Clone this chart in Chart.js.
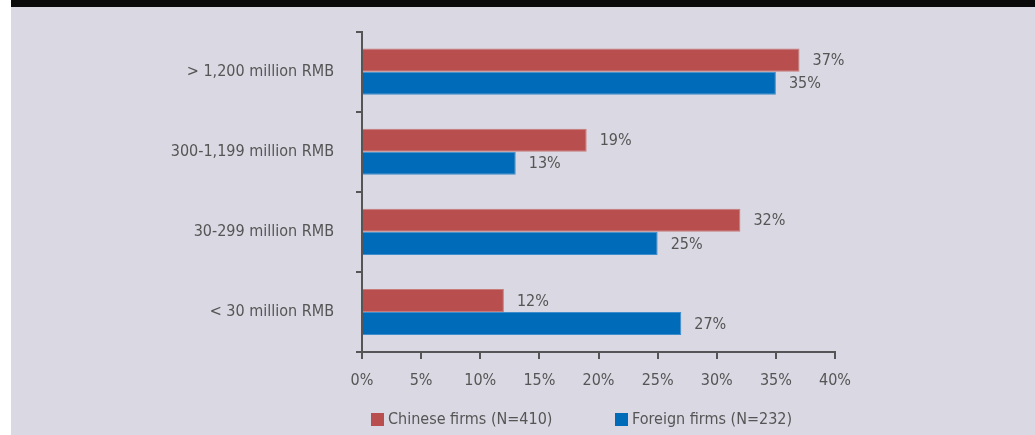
<!DOCTYPE html>
<html>
<head>
<meta charset="utf-8">
<script src="https://cdn.jsdelivr.net/npm/chart.js@4"></script>
<style>
  body { margin: 0; background: #ffffff; }
  canvas { display: block; }
</style>
</head>
<body>
<canvas id="myChart" width="1035" height="435"></canvas>
<script>
document.addEventListener('DOMContentLoaded', function() {
    const ctx = document.getElementById('myChart').getContext('2d');

    // Data
    const categories = ['> 1,200 million RMB', '300-1,199 million RMB', '30-299 million RMB', '< 30 million RMB'];
    const seriesNames = ['Chinese firms (N=410)', 'Foreign firms (N=232)'];
    const chineseFirms = [37, 19, 32, 12];
    const foreignFirms = [35, 13, 25, 27];
    const xTicks = [0, 5, 10, 15, 20, 25, 30, 35, 40];

    const FONT = "'Liberation Sans Narrow', 'Arial Narrow', 'DejaVu Sans Condensed', sans-serif";
    const TEXT = '#555555';
    const RED = '#b84f4e';
    const BLUE = '#006bb8';

    // Background panel: white strip at left, lavender area, black band on top
    const backdrop = {
        id: 'backdrop',
        beforeDraw(chart) {
            const c = chart.ctx;
            c.save();
            c.fillStyle = '#ffffff';
            c.fillRect(0, 0, chart.width, chart.height);
            c.fillStyle = '#dad8e3';
            c.fillRect(11, 0, chart.width - 11, chart.height);
            c.fillStyle = '#0a0a0a';
            c.fillRect(11, 0, chart.width - 11, 7);
            c.restore();
        }
    };

    // Value labels at the end of each bar
    const valueLabels = {
        id: 'valueLabels',
        afterDatasetsDraw(chart) {
            const c = chart.ctx;
            c.save();
            c.font = '16px ' + FONT;
            c.fillStyle = TEXT;
            c.textAlign = 'left';
            c.textBaseline = 'middle';
            chart.data.datasets.forEach((ds, i) => {
                chart.getDatasetMeta(i).data.forEach((bar, j) => {
                    c.fillText(ds.data[j] + '%', bar.x + 13, bar.y + 1);
                });
            });
            c.restore();
        }
    };

    // Legend drawn under the axis
    const bottomLegend = {
        id: 'bottomLegend',
        afterDraw(chart) {
            const c = chart.ctx;
            const starts = [371, 615];
            c.save();
            c.font = '16px ' + FONT;
            c.textBaseline = 'middle';
            c.textAlign = 'left';
            chart.data.datasets.forEach((ds, i) => {
                c.fillStyle = ds.backgroundColor;
                c.fillRect(starts[i], 413, 13, 13);
                c.fillStyle = TEXT;
                c.fillText(ds.label, starts[i] + 17, 420);
            });
            c.restore();
        }
    };

    new Chart(ctx, {
        type: 'bar',
        data: {
            labels: categories,
            datasets: [{
                label: seriesNames[0],
                data: chineseFirms,
                backgroundColor: RED,
                borderColor: '#c97b79',
                borderWidth: 1,
                categoryPercentage: 0.575,
                barPercentage: 1.0
            }, {
                label: seriesNames[1],
                data: foreignFirms,
                backgroundColor: BLUE,
                borderColor: '#3d8ccb',
                borderWidth: 1,
                categoryPercentage: 0.575,
                barPercentage: 1.0
            }]
        },
        options: {
            indexAxis: 'y',
            responsive: false,
            animation: false,
            layout: {
                padding: { left: 11, right: 200, top: 30, bottom: 0 }
            },
            scales: {
                x: {
                    min: 0,
                    max: 40,
                    afterBuildTicks(scale) {
                        scale.ticks = xTicks.map(v => ({ value: v }));
                    },
                    afterFit(scale) { scale.height = 83; },
                    border: { display: true, color: '#555555', width: 2 },
                    grid: { drawOnChartArea: false, drawTicks: true, tickLength: 7, color: '#555555', lineWidth: 2 },
                    ticks: {
                        color: TEXT,
                        padding: 12,
                        font: { family: FONT, size: 16 },
                        callback: v => v + '%'
                    }
                },
                y: {
                    afterFit(scale) { scale.width = 351; },
                    border: { display: true, color: '#555555', width: 2 },
                    grid: { offset: true, drawOnChartArea: false, drawTicks: true, tickLength: 6, color: '#555555', lineWidth: 2 },
                    ticks: {
                        color: TEXT,
                        padding: 22,
                        font: { family: FONT, size: 16 }
                    }
                }
            },
            plugins: {
                legend: { display: false },
                tooltip: { enabled: false }
            }
        },
        plugins: [backdrop, valueLabels, bottomLegend]
    });
});
</script>
</body>
</html>
